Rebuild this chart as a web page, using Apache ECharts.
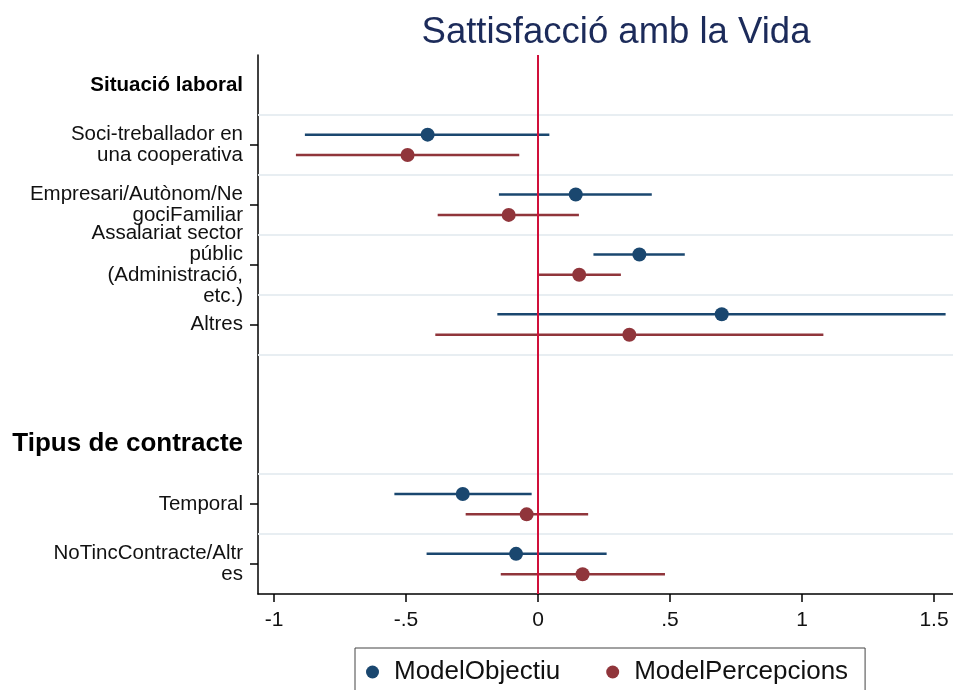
<!DOCTYPE html>
<html>
<head>
<meta charset="utf-8">
<script src="https://cdn.jsdelivr.net/npm/echarts@6/dist/echarts.min.js"></script>
<style>
  html, body { margin: 0; padding: 0; background: #fff; }
  #main { width: 953px; height: 690px; }
</style>
</head>
<body>
<div id="main"></div>
<script>
// eixos: files (posicions) i etiquetes
var rowPos = [1, 2, 3, 4, 5, 7, 8, 9]
var rowLabels = [
  'Situació laboral',
  'Soci-treballador en\nuna cooperativa',
  'Empresari/Autònom/Ne\ngociFamiliar',
  'Assalariat sector\npúblic\n(Administració,\netc.)',
  'Altres',
  'Tipus de contracte',
  'Temporal',
  'NoTincContracte/Altr\nes'
]
var headerPos = [1, 7]
var gridPos = [1.5, 2.5, 3.5, 4.5, 5.5, 7.5, 8.5]
var xTicks = [-1, -0.5, 0, 0.5, 1, 1.5]
var xTickLabels = ['-1', '-.5', '0', '.5', '1', '1.5']

// coeficients i intervals de confiança
var coefPos = [2, 3, 4, 5, 8, 9]
var objCoef = [-0.418, 0.143, 0.384, 0.696, -0.285, -0.083]
var objLo = [-0.883, -0.148, 0.210, -0.154, -0.544, -0.422]
var objHi = [0.043, 0.431, 0.556, 1.544, -0.024, 0.260]
var perCoef = [-0.494, -0.111, 0.156, 0.346, -0.043, 0.169]
var perLo = [-0.917, -0.380, 0.004, -0.389, -0.274, -0.141]
var perHi = [-0.071, 0.155, 0.314, 1.081, 0.190, 0.481]

var blue = '#1a476f'
var red = '#90353b'
var off = 0.17
var font = 'Liberation Sans, Helvetica, Arial, sans-serif'

function ciData(lo, hi, shift) {
  return lo.map(function (v, i) { return [v, hi[i], coefPos[i] + shift] })
}
function ptData(coef, shift) {
  return coef.map(function (v, i) { return [v, coefPos[i] + shift] })
}
function ciRender(color) {
  return function (params, api) {
    var a = api.coord([api.value(0), api.value(2)])
    var b = api.coord([api.value(1), api.value(2)])
    return {
      type: 'line',
      shape: { x1: a[0], y1: a[1], x2: b[0], y2: b[1] },
      style: { stroke: color, lineWidth: 2.5 }
    }
  }
}

var myChart = echarts.init(document.getElementById('main'))
myChart.setOption({
  animation: false,
  textStyle: { fontFamily: font },
  title: {
    text: 'Sattisfacció amb la Vida',
    left: 611,
    textAlign: 'center',
    top: 9,
    textStyle: { fontFamily: font, fontSize: 36.5, fontWeight: 'normal', color: '#1c2b5a' }
  },
  grid: { left: 258, right: 0, top: 55, bottom: 96 },
  legend: {
    data: ['ModelObjectiu', 'ModelPercepcions'],
    left: 355,
    top: 648,
    padding: [11, 17, 20, 11],
    itemGap: 46,
    itemWidth: 13,
    itemHeight: 13,
    icon: 'circle',
    borderColor: '#444',
    borderWidth: 1,
    textStyle: { fontFamily: font, fontSize: 26, color: '#111', padding: [0, 0, 0, 10] }
  },
  xAxis: {
    type: 'value',
    min: -1.0606,
    max: 1.572,
    splitLine: { show: false },
    axisLine: { show: true, onZero: false, lineStyle: { color: '#000', width: 1.5 } },
    axisTick: { show: true, length: 8, customValues: xTicks, lineStyle: { color: '#000', width: 1.5 } },
    axisLabel: {
      customValues: xTicks,
      margin: 16,
      fontSize: 21,
      color: '#111',
      formatter: function (v) { return xTickLabels[xTicks.indexOf(v)] }
    }
  },
  yAxis: {
    type: 'value',
    inverse: true,
    min: 0.5,
    max: 9.5,
    splitLine: { show: false },
    axisLine: { show: true, onZero: false, lineStyle: { color: '#000', width: 1.5 } },
    axisTick: { show: true, length: 8, customValues: coefPos, lineStyle: { color: '#000', width: 1.5 } },
    axisLabel: {
      customValues: rowPos,
      margin: 15,
      fontSize: 20.5,
      lineHeight: 21,
      color: '#111',
      align: 'right',
      formatter: function (v) {
        var s = rowLabels[rowPos.indexOf(v)]
        if (v === headerPos[0]) return '{h1|' + s + '}'
        if (v === headerPos[1]) return '{h2|' + s + '}'
        return s
      },
      rich: {
        h1: { fontFamily: font, fontWeight: 'bold', fontSize: 20.5, color: '#000' },
        h2: { fontFamily: font, fontWeight: 'bold', fontSize: 26, color: '#000' }
      }
    }
  },
  series: [{
    name: 'grid',
    type: 'line',
    data: [],
    silent: true,
    markLine: {
      silent: true,
      symbol: ['none', 'none'],
      label: { show: false },
      lineStyle: { color: '#e8eef2', width: 2, type: 'solid' },
      data: gridPos.map(function (p) { return { yAxis: p } })
    },
    z: 1
  }, {
    name: 'ciObj',
    type: 'custom',
    renderItem: ciRender(blue),
    encode: { x: [0, 1], y: 2 },
    data: ciData(objLo, objHi, -off),
    z: 2
  }, {
    name: 'ciPer',
    type: 'custom',
    renderItem: ciRender(red),
    encode: { x: [0, 1], y: 2 },
    data: ciData(perLo, perHi, off),
    z: 2
  }, {
    name: 'zero',
    type: 'line',
    data: [],
    silent: true,
    markLine: {
      silent: true,
      symbol: ['none', 'none'],
      label: { show: false },
      lineStyle: { color: '#d0103a', width: 2, type: 'solid' },
      data: [{ xAxis: 0 }]
    },
    z: 3
  }, {
    name: 'ModelObjectiu',
    type: 'scatter',
    symbolSize: 14,
    itemStyle: { color: blue, opacity: 1 },
    data: ptData(objCoef, -off),
    z: 4
  }, {
    name: 'ModelPercepcions',
    type: 'scatter',
    symbolSize: 14,
    itemStyle: { color: red, opacity: 1 },
    data: ptData(perCoef, off),
    z: 4
  }]
})
</script>
</body>
</html>
